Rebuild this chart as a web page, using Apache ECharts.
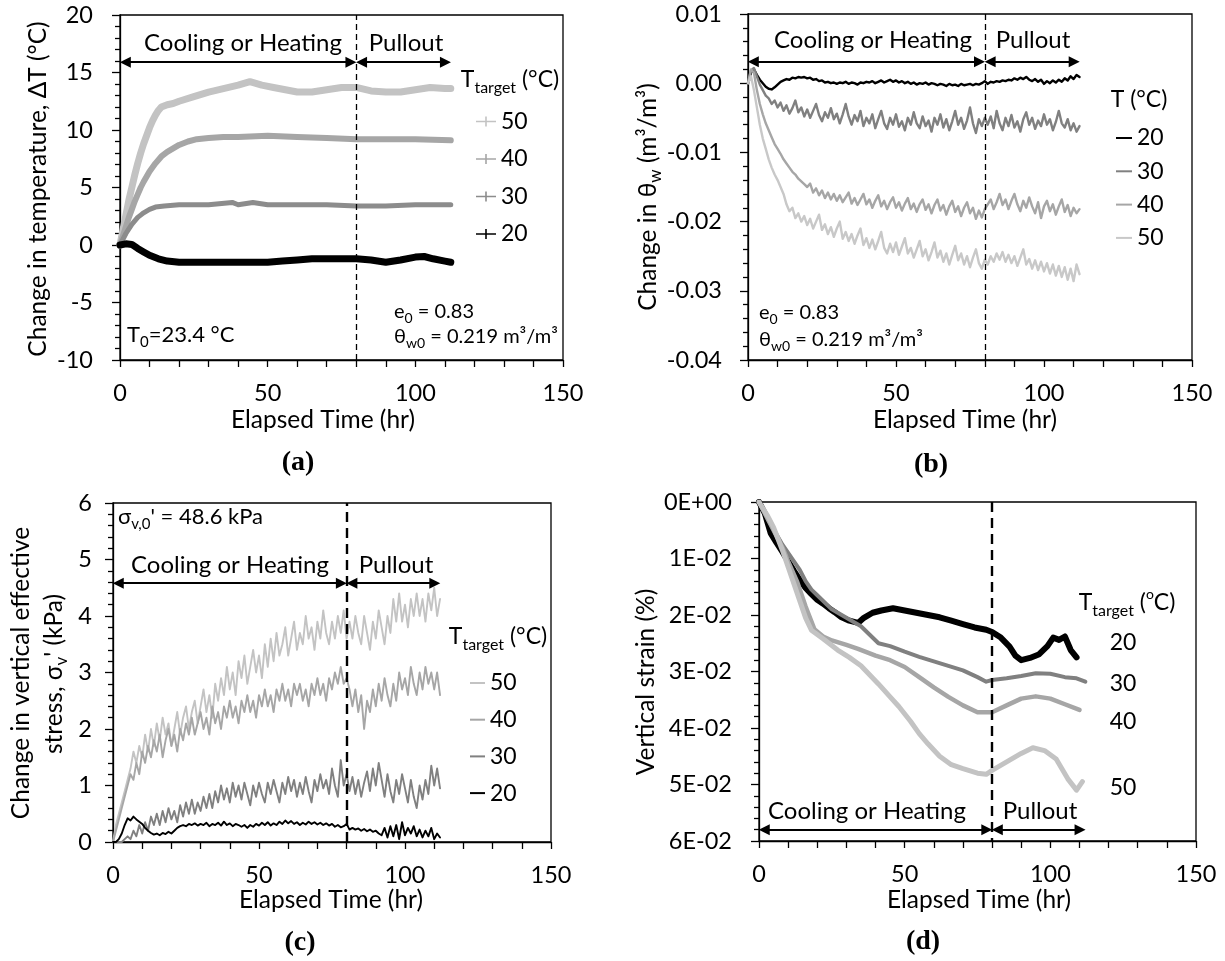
<!DOCTYPE html>
<html><head><meta charset="utf-8">
<script src="https://cdn.jsdelivr.net/npm/echarts@6/dist/echarts.min.js"></script>
<style>html,body{margin:0;padding:0;background:#fff}#c{width:1225px;height:961px}</style>
</head><body><div id="c"></div>
<script>
// ---------- DATA ----------
const hours = [0,1,2,3,4,5,6,7,8,9,10,11,12,13,14,15,16,17,18,19,20,21,22,23,24,25,26,27,28,29,30,31,32,33,34,35,36,37,38,39,40,41,42,43,44,45,46,47,48,49,50,51,52,53,54,55,56,57,58,59,60,61,62,63,64,65,66,67,68,69,70,71,72,73,74,75,76,77,78,79,80,81,82,83,84,85,86,87,88,89,90,91,92,93,94,95,96,97,98,99,100,101,102,103,104,105,106,107,108,109,110,111,112];

// (a) change in temperature [hr, degC]
const a50 = [[0,0],[1,1.3],[2,2.6],[3,3.9],[4,5.0],[5,6.1],[6,7.1],[7,8.0],[8,8.8],[9,9.5],[10,10.2],[11,10.8],[12,11.3],[13,11.7],[14,12.0],[16,12.2],[18,12.3],[20,12.5],[25,12.9],[30,13.3],[35,13.6],[40,13.9],[44,14.2],[48,13.9],[52,13.7],[56,13.5],[60,13.3],[65,13.3],[70,13.5],[75,13.7],[80,13.7],[85,13.4],[90,13.3],[95,13.3],[100,13.5],[105,13.7],[110,13.6],[112,13.6]];
const a40 = [[0,0],[1,0.8],[2,1.6],[3,2.4],[4,3.1],[5,3.8],[6,4.4],[7,5.0],[8,5.5],[10,6.4],[12,7.1],[14,7.7],[16,8.1],[18,8.4],[20,8.7],[23,9.0],[26,9.2],[30,9.3],[35,9.4],[40,9.4],[50,9.5],[60,9.4],[70,9.3],[80,9.2],[90,9.2],[100,9.2],[112,9.1]];
const a30 = [[0,0],[1,0.5],[2,1.0],[3,1.4],[4,1.8],[5,2.1],[6,2.4],[7,2.6],[8,2.8],[10,3.1],[12,3.3],[15,3.4],[20,3.5],[30,3.5],[38,3.7],[40,3.5],[45,3.7],[50,3.5],[60,3.5],[70,3.5],[80,3.4],[90,3.4],[100,3.5],[112,3.5]];
const a20 = [[0,0],[2,0.1],[4,0.05],[6,-0.3],[8,-0.6],[10,-0.9],[13,-1.2],[16,-1.4],[20,-1.5],[25,-1.5],[30,-1.5],[40,-1.5],[50,-1.5],[55,-1.4],[60,-1.3],[65,-1.2],[70,-1.2],[75,-1.2],[80,-1.2],[85,-1.3],[90,-1.5],[95,-1.3],[100,-1.05],[103,-1.0],[106,-1.2],[110,-1.4],[112,-1.5]];

// (b) change in volumetric water content, one value per hour
const b20 = [0,.0015,.0020,.0012,.0005,0,-.0005,-.0008,-.0009,-.0006,
-.0002,.0002,.0004,.0006,.0005,.0008,.0007,.0009,.0008,.0009,
.0007,.0008,.0005,.0006,.0003,.0004,.0001,.0002,0,.0001,
-.0001,.0001,0,.0002,-.0001,.0001,0,-.0002,.0001,0,
.0002,.0001,.0003,0,.0002,.0004,.0001,.0003,.0005,.0002,
.0004,.0001,.0003,0,.0002,-.0001,.0001,-.0002,0,-.0001,
.0001,-.0002,0,-.0001,-.0003,-.0001,-.0002,-.0004,-.0001,-.0003,
-.0002,-.0004,-.0001,-.0003,-.0002,-.0001,-.0003,-.0001,-.0002,0,
.0003,-.0001,.0002,.0001,.0003,.0002,.0004,.0003,.0005,.0004,
.0007,.0005,.0008,.0006,.0009,.0005,.0003,.0006,.0002,.0005,
-.0001,.0003,0,.0004,.0001,.0005,.0002,.0007,.0004,.0010,
.0006,.0012,.0009];
const b30 = [0,.0018,.0022,.0010,-.0002,-.0010,-.0018,-.0022,-.0030,-.0025,
-.0035,-.0028,-.0040,-.0032,-.0044,-.0036,-.0025,-.0042,-.0035,-.0048,
-.0038,-.0050,-.0040,-.0030,-.0046,-.0055,-.0042,-.0050,-.0036,-.0052,
-.0044,-.0058,-.0045,-.0030,-.0048,-.0060,-.0046,-.0055,-.0040,-.0062,
-.0050,-.0058,-.0045,-.0065,-.0052,-.0040,-.0058,-.0066,-.0050,-.0060,
-.0045,-.0063,-.0055,-.0068,-.0050,-.0060,-.0042,-.0058,-.0065,-.0048,
-.0062,-.0054,-.0070,-.0050,-.0060,-.0045,-.0064,-.0052,-.0068,-.0055,
-.0040,-.0060,-.0050,-.0066,-.0054,-.0035,-.0058,-.0072,-.0052,-.0062,
-.0050,-.0060,-.0048,-.0065,-.0040,-.0058,-.0068,-.0050,-.0062,-.0046,
-.0064,-.0055,-.0070,-.0052,-.0042,-.0060,-.0050,-.0066,-.0054,-.0062,
-.0045,-.0060,-.0052,-.0068,-.0056,-.0040,-.0058,-.0064,-.0052,-.0068,
-.0058,-.0070,-.0062];
const b40 = [0,.0020,.0015,-.0010,-.0030,-.0045,-.0058,-.0068,-.0078,-.0088,
-.0095,-.0102,-.0110,-.0116,-.0122,-.0128,-.0132,-.0138,-.0142,-.0146,
-.0150,-.0145,-.0158,-.0152,-.0162,-.0155,-.0166,-.0158,-.0168,-.0160,
-.0170,-.0162,-.0172,-.0165,-.0158,-.0174,-.0166,-.0176,-.0168,-.0160,
-.0175,-.0168,-.0180,-.0170,-.0162,-.0178,-.0170,-.0182,-.0172,-.0165,
-.0180,-.0172,-.0184,-.0174,-.0166,-.0182,-.0174,-.0186,-.0175,-.0168,
-.0183,-.0175,-.0188,-.0176,-.0168,-.0184,-.0176,-.0190,-.0178,-.0170,
-.0186,-.0178,-.0192,-.0180,-.0172,-.0188,-.0180,-.0196,-.0184,-.0194,
-.0182,-.0175,-.0168,-.0182,-.0172,-.0160,-.0176,-.0168,-.0182,-.0170,
-.0160,-.0175,-.0185,-.0170,-.0180,-.0165,-.0178,-.0188,-.0172,-.0195,
-.0178,-.0170,-.0185,-.0175,-.0190,-.0178,-.0168,-.0186,-.0176,-.0192,
-.0180,-.0188,-.0182];
const b50 = [0,.0010,-.0010,-.0035,-.0060,-.0080,-.0095,-.0110,-.0122,-.0132,
-.0140,-.0150,-.0160,-.0175,-.0185,-.0180,-.0195,-.0188,-.0200,-.0192,
-.0205,-.0196,-.0210,-.0200,-.0190,-.0212,-.0204,-.0218,-.0208,-.0222,
-.0210,-.0200,-.0225,-.0215,-.0228,-.0218,-.0232,-.0220,-.0210,-.0234,
-.0224,-.0238,-.0226,-.0240,-.0228,-.0215,-.0238,-.0246,-.0232,-.0244,
-.0230,-.0248,-.0236,-.0224,-.0246,-.0238,-.0252,-.0240,-.0228,-.0250,
-.0240,-.0256,-.0244,-.0230,-.0252,-.0242,-.0258,-.0246,-.0262,-.0248,
-.0235,-.0256,-.0246,-.0262,-.0250,-.0266,-.0252,-.0240,-.0260,-.0268,
-.0255,-.0262,-.0250,-.0258,-.0246,-.0255,-.0244,-.0258,-.0248,-.0260,
-.0250,-.0264,-.0252,-.0240,-.0262,-.0254,-.0268,-.0256,-.0270,-.0258,
-.0272,-.0260,-.0275,-.0262,-.0278,-.0264,-.0280,-.0266,-.0284,-.0268,
-.0286,-.0262,-.0276];

// (c) change in vertical effective stress (kPa), one value per hour
const c50 = [0,.3,.5,.7,.9,1.1,1.3,1.6,1.4,1.7,
1.5,1.9,1.6,2.0,1.7,2.1,1.8,2.2,1.9,2.1,
1.7,2.0,2.3,1.9,2.2,2.4,2.0,2.3,2.5,2.1,
2.4,2.7,2.3,2.6,2.2,2.8,2.5,2.9,2.6,3.1,
2.7,3.0,2.6,3.2,2.9,3.3,2.8,3.1,3.4,3.0,
3.3,2.9,3.5,3.1,3.6,3.2,3.7,3.3,3.5,3.8,
3.3,3.6,3.9,3.4,3.7,3.5,4.0,3.6,3.8,3.4,
3.9,3.6,4.1,3.7,3.5,3.9,3.6,4.0,3.7,4.1,
3.6,3.9,3.6,4.0,3.7,3.5,4.0,3.7,3.4,3.9,
3.6,4.1,3.8,3.5,4.0,3.7,4.3,3.9,4.4,3.9,
4.2,3.8,4.3,4.0,4.4,4.0,4.3,3.9,4.4,4.1,
4.5,4.0,4.3];
const c40 = [0,.2,.4,.6,.8,1.0,1.2,1.1,1.4,1.2,
1.6,1.4,1.7,1.5,1.8,1.6,1.9,1.5,1.8,2.0,
1.7,1.9,1.6,2.0,1.8,2.1,1.9,2.2,1.9,2.1,
2.3,2.0,2.2,1.9,2.4,2.1,2.3,2.0,2.4,2.2,
2.5,2.2,2.4,2.1,2.5,2.3,2.6,2.3,2.5,2.2,
2.6,2.4,2.7,2.4,2.6,2.3,2.7,2.5,2.8,2.5,
2.7,2.4,2.8,2.6,2.8,2.5,2.7,2.4,2.8,2.6,
2.9,2.6,2.8,2.5,2.9,2.7,3.0,2.8,3.1,2.8,
2.9,2.7,2.4,2.7,2.3,2.6,2.0,2.5,2.3,2.7,
2.4,2.8,2.5,2.9,2.6,2.4,2.8,2.5,3.0,2.7,
2.9,2.6,3.1,2.8,2.6,3.0,2.7,3.1,2.8,3.0,
2.7,3.0,2.6];
const c30 = [0,0,0,0,.05,.1,.05,.2,.1,.3,
.15,.35,.2,.45,.3,.5,.3,.55,.35,.6,
.4,.55,.35,.65,.45,.7,.5,.75,.5,.7,
.55,.8,.6,.85,.6,.9,.7,1.0,.75,.95,
.7,1.05,.8,1.0,.75,1.05,.85,.65,1.0,.8,
1.05,.85,.7,1.05,.85,1.1,.9,.7,1.05,.85,
1.15,.9,1.1,.8,1.05,.85,1.15,.9,.7,1.1,
.9,1.2,.95,1.1,.85,1.3,1.0,.8,1.45,1.0,
1.2,.9,1.15,.85,1.1,.8,1.05,1.25,.9,1.3,
1.0,1.4,1.1,.8,1.2,.9,.7,1.1,.85,1.2,
.95,.7,1.1,.8,.6,1.0,.75,1.1,.85,1.35,
1.0,1.3,.95];
const c20 = [0,0,.05,.15,.3,.42,.38,.45,.4,.36,
.32,.25,.2,.16,.13,.15,.12,.16,.14,.18,
.15,.2,.25,.28,.3,.28,.32,.3,.33,.29,
.32,.3,.34,.28,.32,.3,.34,.29,.36,.3,
.33,.28,.32,.3,.27,.3,.25,.3,.27,.32,
.29,.34,.3,.35,.29,.33,.3,.36,.32,.38,
.33,.37,.32,.35,.3,.34,.31,.36,.32,.35,
.31,.34,.3,.33,.29,.32,.27,.3,.26,.28,
.32,.22,.25,.22,.24,.2,.23,.19,.22,.18,
.2,.15,.12,.25,.08,.28,.1,.3,.05,.35,
.12,.25,.15,.28,.1,.22,.08,.2,.1,.25,
.05,.15,.08];

// (d) vertical strain (%) [hr, strain]
const d20 = [[0,0],[2,0.002],[4,0.0055],[6,0.0072],[8,0.0088],[10,0.0105],[12,0.0122],[14,0.0138],[16,0.0152],[18,0.0163],[20,0.0173],[22,0.0180],[24,0.0188],[26,0.0195],[28,0.0203],[31,0.0210],[34,0.0214],[36,0.0205],[39,0.0196],[42,0.0192],[46,0.0188],[50,0.0192],[54,0.0196],[58,0.0200],[62,0.0204],[66,0.0210],[70,0.0216],[74,0.0222],[78,0.0226],[80,0.0230],[83,0.0240],[86,0.0256],[88,0.0272],[90,0.0280],[93,0.0276],[96,0.0270],[99,0.0255],[101,0.0240],[103,0.0244],[105,0.0238],[107,0.0262],[109,0.0275]];
const d30 = [[0,0],[3,0.003],[5,0.0048],[8,0.0075],[10,0.009],[12,0.0105],[14,0.012],[16,0.014],[18,0.0155],[20,0.0165],[25,0.019],[30,0.0205],[35,0.022],[38,0.0235],[41,0.025],[45,0.0255],[50,0.0265],[55,0.0274],[60,0.0282],[65,0.029],[70,0.0298],[75,0.031],[78,0.0318],[80,0.0315],[85,0.0312],[90,0.0308],[95,0.0303],[100,0.0304],[105,0.031],[109,0.0312],[112,0.0318]];
const d40 = [[0,0],[3,0.003],[5,0.005],[8,0.008],[10,0.0105],[13,0.014],[16,0.0185],[19,0.0225],[22,0.0238],[25,0.0245],[30,0.0253],[34,0.026],[40,0.0272],[45,0.028],[50,0.0292],[55,0.031],[60,0.0328],[65,0.0345],[70,0.036],[75,0.0372],[80,0.0372],[85,0.036],[90,0.0348],[95,0.0344],[100,0.0348],[105,0.0358],[110,0.0368]];
const d50 = [[0,0],[3,0.0025],[5,0.0045],[8,0.0085],[10,0.0115],[13,0.016],[16,0.0205],[18,0.0227],[22,0.0242],[27,0.0262],[31,0.0275],[35,0.029],[41,0.0322],[45,0.0345],[48,0.0362],[52,0.0388],[55,0.041],[58,0.0428],[62,0.045],[66,0.0465],[70,0.0472],[75,0.048],[78,0.0482],[80,0.0475],[85,0.046],[90,0.0445],[94,0.0435],[98,0.044],[102,0.0455],[106,0.049],[109,0.051],[111,0.0495]];

// phase boundaries (hr) and arrow levels
const phaseEdges = [0, 80, 112];
const arrowLevel = [15.9, 0.0031, 4.58, 0.058];
const legendNames = ['50','40','30','20'];

// ---------- STYLE / LAYOUT ----------
const F = 'Lato, "Noto Sans", sans-serif';
const SERIF = '"Liberation Serif", "Times New Roman", serif';
const C = {k:'#000000', d:'#808080', m:'#a6a6a6', l:'#c3c3c3'};
const TICK = 23.5, TITLE = 24.5;
const grids = [
  {left:120, top:15, width:443, height:345},
  {left:748, top:14, width:444, height:346},
  {left:113, top:503, width:438, height:339},
  {left:759, top:502, width:437, height:339}
];
const yLabelMargin = [27, 26, 21, 27];

function rich(size){
  return {
    n:{fontSize:size, lineHeight:Math.round(size*1.35), fontFamily:F, color:'#000'},
    s:{fontSize:Math.round(size*0.68), lineHeight:Math.round(size*0.68), verticalAlign:'bottom', fontFamily:F, color:'#000'},
    p:{fontSize:Math.round(size*0.62), lineHeight:Math.round(size*0.62), verticalAlign:'top', fontFamily:F, color:'#000'},
    b:{fontSize:size, fontWeight:'bold', fontFamily:SERIF, color:'#000'}
  };
}
function txt(x, y, s, size, align, rot){
  const g = {type:'text', x:x, y:y, silent:true, z:100,
    style:{text:s, rich:rich(size), fontSize:size, fontFamily:F, fill:'#000', align:align||'center', verticalAlign:'middle'}};
  if (rot) g.rotation = rot;
  return g;
}

const line = {color:'#000', width:1.3};
function xAxis(gi){
  return {type:'value', gridIndex:gi, min:0, max:150, interval:50,
    axisLine:{show:true, onZero:false, lineStyle:line},
    axisTick:{show:true, length:7, lineStyle:line},
    minorTick:{show:true, splitNumber:5, length:7, lineStyle:line},
    splitLine:{show:false}, minorSplitLine:{show:false},
    axisLabel:{fontSize:TICK, color:'#000', fontFamily:F, margin:21, showMinLabel:true, showMaxLabel:true}};
}
function yAxis(gi, min, max, interval, fmt, inverse){
  return {type:'value', gridIndex:gi, min:min, max:max, interval:interval, inverse:!!inverse,
    axisLine:{show:true, onZero:false, lineStyle:line},
    axisTick:{show:true, length:8, lineStyle:line},
    minorTick:{show:true, splitNumber:5, length:5, lineStyle:line},
    splitLine:{show:false}, minorSplitLine:{show:false},
    axisLabel:{fontSize:TICK, color:'#000', fontFamily:F, margin:yLabelMargin[gi], formatter:fmt, showMinLabel:true, showMaxLabel:true}};
}
const fmtB = v => Math.abs(v) < 1e-9 ? '0.00' : v.toFixed(2);
const fmtD = v => {
  if (Math.abs(v) < 1e-12) return '0E+00';
  const e = Math.floor(Math.log10(Math.abs(v)) + 1e-9);
  const m = Math.round(v / Math.pow(10, e));
  return m + 'E-' + String(-e).padStart(2, '0');
};

function ser(name, gi, data, color, width, extra){
  return Object.assign({name:name, type:'line', xAxisIndex:gi, yAxisIndex:gi, data:data,
    showSymbol:false, symbol:'none', silent:true, animation:false,
    itemStyle:{color:color}, lineStyle:{color:color, width:width, cap:'round', join:'round'}}, extra||{});
}
const withHours = arr => hours.map((t, i) => [t, arr[i]]);

function dashLine(w, dash){
  return {silent:true, animation:false, symbol:['none','none'], label:{show:false},
    lineStyle:{color:'#000', width:w, type:dash}, emphasis:{disabled:true},
    data:[{xAxis:phaseEdges[1]}]};
}
const INS = 1.8;
function arrows(gi){
  const y = arrowLevel[gi];
  return {silent:true, animation:false, symbol:['triangle','triangle'], symbolSize:11, label:{show:false},
    lineStyle:{color:'#000', width:2, type:'solid'}, emphasis:{disabled:true},
    data:[[{coord:[phaseEdges[0]+INS, y]}, {coord:[phaseEdges[1]-INS, y]}],
          [{coord:[phaseEdges[1]+INS, y]}, {coord:[phaseEdges[2]-INS, y]}]]};
}

const series = [
  // (a)
  ser('a50', 0, a50, C.l, 7, {markLine:dashLine(1.3,[6,4])}),
  ser('a40', 0, a40, C.m, 6, {markLine:arrows(0)}),
  ser('a30', 0, a30, '#8c8c8c', 5),
  ser('a20', 0, a20, C.k, 7),
  // (b)
  ser('b20', 1, withHours(b20), C.k, 2.4, {markLine:dashLine(1.3,[6,4])}),
  ser('b30', 1, withHours(b30), C.d, 2.4, {markLine:arrows(1)}),
  ser('b40', 1, withHours(b40), C.m, 2.4),
  ser('b50', 1, withHours(b50), '#c8c8c8', 2.4),
  // (c)
  ser('c50', 2, withHours(c50), C.l, 1.9, {markLine:dashLine(2.4,[10,6])}),
  ser('c40', 2, withHours(c40), C.m, 1.9, {markLine:arrows(2)}),
  ser('c30', 2, withHours(c30), C.d, 1.9),
  ser('c20', 2, withHours(c20), C.k, 1.9),
  // (d)
  ser('d20', 3, d20, C.k, 6, {markLine:dashLine(2.4,[10,6])}),
  ser('d30', 3, d30, C.d, 4, {markLine:arrows(3)}),
  ser('d40', 3, d40, C.m, 4.5),
  ser('d50', 3, d50, C.l, 5)
];

const legendBase = {orient:'vertical', padding:0, selectedMode:false,
  textStyle:{fontSize:23, color:'#000', fontFamily:F}, formatter: n => n.slice(1), symbolKeepAspect:false};
const legends = [
  Object.assign({}, legendBase, {data:legendNames.map(n=>'a'+n), left:476, top:110, itemGap:14.5, itemWidth:20, itemHeight:10,
    icon:'path://M0,4.2H20V5.8H0Z M9.2,0H10.8V10H9.2Z'}),
  Object.assign({}, legendBase, {data:legendNames.slice().reverse().map(n=>'b'+n), left:1116, top:126.5, itemGap:10.3, itemWidth:16, itemHeight:2,
    icon:'path://M0,0H16V2H0Z'}),
  Object.assign({}, legendBase, {data:legendNames.map(n=>'c'+n), left:470, top:671.5, itemGap:13.7, itemWidth:15, itemHeight:2,
    icon:'path://M0,0H15V2H0Z'})
];

const R90 = Math.PI / 2;
const graphics = [
  // panel labels
  txt(298, 463, '{b|(a)}', 28), txt(931, 465, '{b|(b)}', 28),
  txt(300, 943, '{b|(c)}', 28), txt(923, 942, '{b|(d)}', 28),
  // x-axis titles
  txt(323, 420, '{n|Elapsed Time (hr)}', TITLE), txt(965, 420, '{n|Elapsed Time (hr)}', TITLE),
  txt(331, 900, '{n|Elapsed Time (hr)}', TITLE), txt(979, 900, '{n|Elapsed Time (hr)}', TITLE),
  // y-axis titles
  txt(38, 189, '{n|Change in temperature, ΔT (°C)}', TITLE, 'center', R90),
  txt(648, 197, '{n|Change in θ}{s|w}{n| (m³/m³)}', TITLE, 'center', R90),
  txt(21, 673, '{n|Change in vertical effective}', TITLE, 'center', R90),
  txt(54, 674, "{n|stress, σ}{s|v}{n|' (kPa)}", TITLE, 'center', R90),
  txt(646, 682, '{n|Vertical strain (%)}', TITLE, 'center', R90),
  // phase annotations
  txt(243, 43, '{n|Cooling or Heating}', 24), txt(406, 43, '{n|Pullout}', 24),
  txt(873, 40, '{n|Cooling or Heating}', 24), txt(1033, 40, '{n|Pullout}', 24),
  txt(230, 565, '{n|Cooling or Heating}', 24), txt(396, 565, '{n|Pullout}', 24),
  txt(867, 811, '{n|Cooling or Heating}', 24), txt(1040, 811, '{n|Pullout}', 24),
  // notes
  txt(127, 335, '{n|T}{s|0}{n|=23.4 °C}', 22, 'left'),
  txt(394, 312, '{n|e}{s|0}{n| = 0.83}', 20, 'left'),
  txt(394, 337, '{n|θ}{s|w0}{n| = 0.219 m³/m³}', 20, 'left'),
  txt(759, 313, '{n|e}{s|0}{n| = 0.83}', 20, 'left'),
  txt(759, 340, '{n|θ}{s|w0}{n| = 0.219 m³/m³}', 20, 'left'),
  txt(118, 517, "{n|σ}{s|v,0}{n|' = 48.6 kPa}", 22, 'left'),
  // legend titles
  txt(510, 80, '{n|T}{s|target}{n| (°C)}', 23),
  txt(1139, 100, '{n|T (°C)}', 23),
  txt(498, 637, '{n|T}{s|target}{n| (°C)}', 23),
  txt(1127, 603, '{n|T}{s|target}{n| (}{p|o}{n|C)}', 23),
  // (d) direct labels
  txt(1123, 643, '{n|20}', 23), txt(1123, 684, '{n|30}', 23),
  txt(1123, 722, '{n|40}', 23), txt(1123, 788, '{n|50}', 23)
];

const chart = echarts.init(document.getElementById('c'), null, {renderer:'canvas'});
chart.setOption({
  backgroundColor:'#ffffff',
  animation:false,
  grid: grids.map(g => Object.assign({show:true, borderColor:'#000', borderWidth:1.3, backgroundColor:'transparent', containLabel:false, outerBoundsMode:'none'}, g)),
  xAxis: [0,1,2,3].map(xAxis),
  yAxis: [
    yAxis(0, -10, 20, 5),
    yAxis(1, -0.04, 0.01, 0.01, fmtB),
    yAxis(2, 0, 6, 1),
    yAxis(3, 0, 0.06, 0.01, fmtD, true)
  ],
  legend: legends,
  series: series,
  graphic: graphics
});
</script></body></html>
